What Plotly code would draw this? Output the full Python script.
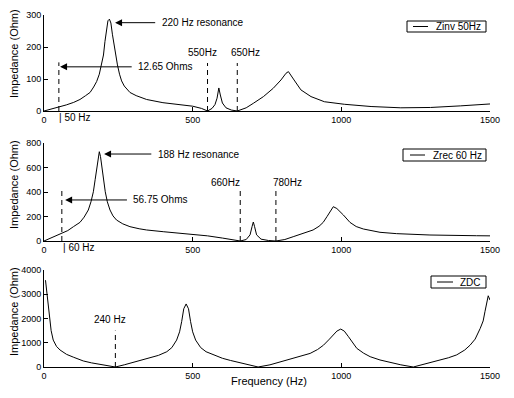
import plotly.graph_objects as go

W, H = 514, 398

# ---------------- data ----------------
zinv_f = [0, 25, 50, 75, 100, 121, 140, 155, 167, 177, 186, 194, 200, 205, 210, 215, 220, 225, 230, 234,
          240, 247, 254, 261, 270, 289, 310, 345, 400, 457, 500, 530, 550, 565, 575, 582, 588, 593, 600,
          612, 630, 650, 680, 704, 738, 771, 797, 814, 822, 841, 864, 898, 943, 1010, 1100, 1200, 1300,
          1400, 1500]
zinv_z = [0, 6, 13, 19, 27, 36, 48, 58, 75, 92, 115, 144, 175, 217, 260, 282, 287, 275, 240, 217,
          180, 144, 115, 94, 78, 58, 48, 36, 26, 19, 15, 8, 0, 8, 20, 40, 72, 50, 25,
          10, 3, 0, 10, 24, 45, 71, 97, 118, 123, 97, 66, 45, 29, 21, 14, 10, 11,
          16, 22]

zrec_f = [0, 30, 57, 80, 99, 121, 135, 149, 158, 166, 172, 177, 182, 186, 190, 195, 200, 206, 213, 222,
          232, 244, 265, 289, 320, 345, 401, 450, 491, 550, 600, 640, 660, 680, 693, 700, 704, 708, 715,
          730, 755, 780, 810, 838, 870, 905, 925, 939, 952, 962, 973, 985, 1000, 1007, 1029, 1050, 1074,
          1130, 1186, 1298, 1455, 1500]
zrec_z = [0, 30, 60, 85, 117, 152, 195, 253, 320, 402, 500, 593, 690, 729, 690, 593, 500, 402, 320, 253,
          205, 171, 140, 117, 100, 90, 76, 66, 60, 42, 24, 8, 0, 12, 50, 120, 155, 120, 50,
          15, 4, 0, 12, 35, 60, 90, 120, 152, 200, 239, 280, 265, 230, 212, 152, 118, 98,
          71, 60, 49, 43, 42]

zdc_f = [5, 10, 14, 18, 24, 31, 42, 54, 76, 100, 132, 160, 188, 215, 240, 270, 300, 330, 357, 385,
         413, 430, 446, 456, 463, 470, 478, 486, 493, 500, 510, 527, 545, 573, 600, 627, 656, 686, 720,
         760, 805, 850, 895, 920, 940, 960, 973, 985, 998, 1010, 1024, 1038, 1052, 1075, 1097, 1130,
         1164, 1200, 1242, 1280, 1321, 1360, 1388, 1415, 1433, 1450, 1467, 1477, 1483, 1490, 1494,
         1497, 1500]
zdc_z = [3580, 3000, 2400, 2000, 1500, 1110, 850, 700, 520, 400, 250, 170, 110, 50, 0, 90, 190, 270, 360, 480,
         630, 800, 1110, 1450, 1870, 2400, 2600, 2400, 1870, 1450, 1110, 800, 630, 480, 360, 270, 190, 90, 0,
         90, 250, 380, 560, 720, 900, 1150, 1320, 1480, 1565, 1480, 1250, 1000, 770, 570, 425, 290,
         190, 90, 0, 120, 250, 380, 500, 700, 900, 1150, 1590, 1900, 2280, 2700, 2937,
         2850, 2760]

x_ticks = [0, 500, 1000, 1500]
y_ticks = [[0, 100, 200, 300], [0, 200, 400, 600, 800], [0, 1000, 2000, 3000, 4000]]
y_ranges = [[0, 300], [0, 800], [0, 4000]]
series_names = ["Zinv 50Hz", "Zrec 60 Hz", "ZDC"]

# dashed marker lines: frequency and height
mark_f = [[50, 550, 650], [60, 660, 780], [240]]
mark_h = [[152, 150, 150], [410, 410, 410], [1500]]

# frequency labels above the marker lines (text, centre f, level)
freq_labels = [[("550Hz", 533, 182), ("650Hz", 676, 182)],
               [("660Hz", 609, 481), ("780Hz", 819, 481)],
               [("240 Hz", 222, 1965)]]

# arrows: (head f, head z, tail f, text)
arrows = [[(239, 276, 379, "220 Hz resonance"), (54, 138, 300, "12.65 Ohms")],
          [(202, 710, 366, "188 Hz resonance"), (71, 335, 284, "56.75 Ohms")],
          []]

# labels under the axis (text, left frequency)
under_labels = [("| 50 Hz", 43), ("| 60 Hz", 56), None]

# ---------------- layout helpers ----------------
def px(x):
    return x / W

def py(y):
    return 1 - y / H

X0, X1 = 44, 490
def fx(f):
    return px(X0 + (X1 - X0) * f / 1500)

FONT = "Liberation Sans, Arial, sans-serif"
x_dom = [px(X0), px(X1)]
y_px = [(111, 15), (241, 143), (367, 270)]
y_doms = [[py(a), py(b)] for a, b in y_px]

fig = go.Figure()
fs = [zinv_f, zrec_f, zdc_f]
zs = [zinv_z, zrec_z, zdc_z]

shapes = []
annotations = []

for i in range(3):
    xa = "x" if i == 0 else f"x{i+1}"
    ya = "y" if i == 0 else f"y{i+1}"
    fig.add_trace(go.Scatter(x=fs[i], y=zs[i], mode="lines", name=series_names[i],
                             line=dict(color="black", width=1), xaxis=xa, yaxis=ya,
                             showlegend=False))
    axis_common = dict(showline=True, linecolor="black", linewidth=1, ticks="inside",
                       ticklen=4, tickcolor="black", showgrid=False, zeroline=False,
                       automargin=False,
                       tickfont=dict(family=FONT, size=9, color="black"))
    fig.layout[("xaxis" if i == 0 else f"xaxis{i+1}")] = dict(
        domain=x_dom, range=[0, 1500], tickvals=x_ticks, anchor=ya, **axis_common)
    fig.layout[("yaxis" if i == 0 else f"yaxis{i+1}")] = dict(
        domain=y_doms[i], range=y_ranges[i], tickvals=y_ticks[i], anchor=xa, **axis_common)

    # dashed markers
    for f, h in zip(mark_f[i], mark_h[i]):
        shapes.append(dict(type="line", xref=xa, yref=ya, x0=f, x1=f, y0=0, y1=h,
                           line=dict(color="black", width=1, dash="5px,4px")))
    for t, f, lvl in freq_labels[i]:
        annotations.append(dict(text=t, x=f, y=lvl, xref=xa, yref=ya, showarrow=False,
                                xanchor="center", yanchor="middle",
                                font=dict(family=FONT, size=10, color="black")))
    for hf, hz, tf, t in arrows[i]:
        annotations.append(dict(text="", x=hf, y=hz, xref=xa, yref=ya, ax=tf, ay=hz,
                                axref=xa, ayref=ya, showarrow=True, arrowhead=2,
                                arrowsize=1.4, arrowwidth=1, arrowcolor="black", standoff=0))
        annotations.append(dict(text=t, x=tf, y=hz, xref=xa, yref=ya, showarrow=False,
                                xanchor="left", yanchor="middle", xshift=3,
                                font=dict(family=FONT, size=10, color="black")))
    if under_labels[i]:
        t, f = under_labels[i]
        annotations.append(dict(text=t, x=fx(f), y=py(y_px[i][0] + 6.5), xref="paper", yref="paper",
                                showarrow=False, xanchor="left", yanchor="middle",
                                font=dict(family=FONT, size=10, color="black")))

# y axis titles
for yc in [54, 185, 312]:
    annotations.append(dict(text="Impedance (Ohm)", x=px(14), y=py(yc), xref="paper", yref="paper",
                            textangle=-90, showarrow=False, xanchor="center", yanchor="middle",
                            font=dict(family=FONT, size=11, color="black")))
annotations.append(dict(text="Frequency (Hz)", x=px(269), y=py(381), xref="paper", yref="paper",
                        showarrow=False, xanchor="center", yanchor="middle",
                        font=dict(family=FONT, size=11, color="black")))

# legend boxes (box x0,x1,y0,y1 ; line x0,x1 ; text x)
legend_boxes = [(407, 486, 21, 32, 413, 428, 434),
                (403, 486, 149, 161, 410, 425, 431),
                (431, 486, 276, 288, 437, 453, 458)]
for i, (bx0, bx1, by0, by1, lx0, lx1, tx) in enumerate(legend_boxes):
    shapes.append(dict(type="rect", xref="paper", yref="paper", x0=px(bx0), x1=px(bx1),
                       y0=py(by1), y1=py(by0), line=dict(color="black", width=1),
                       fillcolor="white"))
    ym = (by0 + by1) / 2
    shapes.append(dict(type="line", xref="paper", yref="paper", x0=px(lx0), x1=px(lx1),
                       y0=py(ym), y1=py(ym), line=dict(color="black", width=1)))
    annotations.append(dict(text=series_names[i], x=px(tx), y=py(ym), xref="paper", yref="paper",
                            showarrow=False, xanchor="left", yanchor="middle",
                            font=dict(family=FONT, size=10, color="black")))

fig.update_layout(width=W, height=H, margin=dict(l=0, r=0, t=0, b=0, autoexpand=False),
                  paper_bgcolor="white", plot_bgcolor="white", hovermode=False,
                  shapes=shapes, annotations=annotations, showlegend=False)

fig.write_html("out.html",
               config={"displayModeBar": False, "staticPlot": True},
               post_script="document.body.style.margin='0';document.body.style.overflow='hidden';")
